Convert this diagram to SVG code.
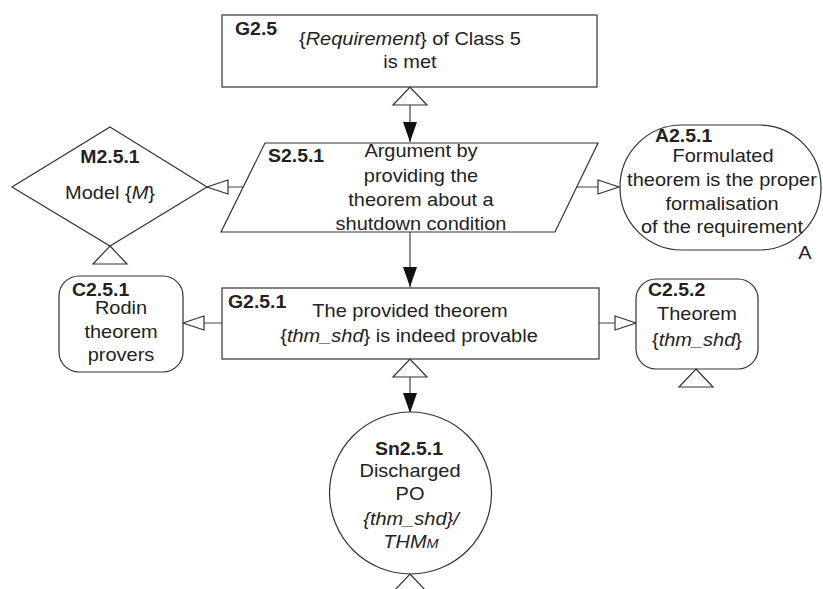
<svg xmlns="http://www.w3.org/2000/svg" xmlns:xlink="http://www.w3.org/1999/xlink" width="823" height="589" viewBox="0 0 823 589">
  <style>
    .shape { fill: #ffffff; stroke: #333333; stroke-width: 1.2; }
    .link { fill: none; stroke: #444444; stroke-width: 1.2; }
    text { font-family: "Liberation Sans", Arial, sans-serif; font-size: 18px; fill: #222222; }
    .c { text-anchor: middle; }
    .id { font-weight: bold; font-size: 17.5px; }
    .it { font-style: italic; }
  </style>
  <defs>
    <!-- filled arrowhead: "solved by" -->
    <marker id="solid" viewBox="0 0 20 14" markerWidth="20" markerHeight="14" refX="20" refY="7" orient="auto" markerUnits="userSpaceOnUse">
      <path d="M0,0 L20,7 L0,14 z" fill="#111111"/>
    </marker>
    <!-- large hollow head at the parent end -->
    <marker id="hollow" viewBox="-1 -1 20 36" markerWidth="20" markerHeight="36" refX="18" refY="17" orient="auto-start-reverse" markerUnits="userSpaceOnUse" overflow="visible">
      <path d="M0,0 L18,17 L0,34 z" fill="#ffffff" stroke="#333333" stroke-width="1.2"/>
    </marker>
    <!-- small hollow head: "in context of" -->
    <marker id="ctx" viewBox="-1 -1 24 16" markerWidth="24" markerHeight="16" refX="21" refY="7" orient="auto" markerUnits="userSpaceOnUse" overflow="visible">
      <path d="M0,0 L21,7 L0,14 z" fill="#ffffff" stroke="#333333" stroke-width="1.2"/>
    </marker>
    <!-- uninstantiated marker under a node -->
    <path id="uninst" d="M0,0 L17,18 L-17,18 z" class="shape"/>
  </defs>

  <g id="connectors">
    <path class="link" d="M410,87 V142" marker-start="url(#hollow)" marker-end="url(#solid)"/>
    <path class="link" d="M410,232 V287" marker-end="url(#solid)"/>
    <path class="link" d="M410,359 V413" marker-start="url(#hollow)" marker-end="url(#solid)"/>
    <path class="link" d="M243,187 H207" marker-end="url(#ctx)"/>
    <path class="link" d="M577,187 H619" marker-end="url(#ctx)"/>
    <path class="link" d="M222,323 H183" marker-end="url(#ctx)"/>
    <path class="link" d="M599,323 H636" marker-end="url(#ctx)"/>
  </g>

  <g id="G2.5">
    <rect class="shape" x="222" y="15" width="375" height="72"/>
    <text class="id" transform="translate(235,35) scale(1.11,1)">G2.5</text>
    <text class="c" transform="translate(410,45) scale(1.11,1)">{<tspan class="it">Requirement</tspan>} of Class 5</text>
    <text class="c" transform="translate(410,68) scale(1.11,1)">is met</text>
  </g>

  <g id="S2.5.1">
    <polygon class="shape" points="265,143 598,143 555,232 221,232"/>
    <text class="id" transform="translate(268,162) scale(1.11,1)">S2.5.1</text>
    <text class="c" transform="translate(421,157) scale(1.11,1)">Argument by</text>
    <text class="c" transform="translate(421,182) scale(1.11,1)">providing the</text>
    <text class="c" transform="translate(421,206) scale(1.11,1)">theorem about a</text>
    <text class="c" transform="translate(421,230) scale(1.11,1)">shutdown condition</text>
  </g>

  <g id="M2.5.1">
    <polygon class="shape" points="110,127 207,187 110,246 12,187"/>
    <use xlink:href="#uninst" x="110" y="246"/>
    <text class="id c" transform="translate(110,163) scale(1.11,1)">M2.5.1</text>
    <text class="c" transform="translate(110,199) scale(1.11,1)">Model {<tspan class="it">M</tspan>}</text>
  </g>

  <g id="A2.5.1">
    <rect class="shape" x="620" y="125" width="201" height="125" rx="62" ry="62"/>
    <text class="id" transform="translate(655,142) scale(1.11,1)">A2.5.1</text>
    <text class="c" transform="translate(723,162) scale(1.11,1)">Formulated</text>
    <text class="c" transform="translate(722,186) scale(1.11,1)">theorem is the proper</text>
    <text class="c" transform="translate(722,210) scale(1.11,1)">formalisation</text>
    <text class="c" transform="translate(722,233) scale(1.11,1)">of the requirement</text>
    <text class="c" transform="translate(805,259) scale(1.11,1)">A</text>
  </g>

  <g id="C2.5.1">
    <rect class="shape" x="59" y="276" width="124" height="96" rx="20" ry="20"/>
    <text class="id" transform="translate(72,296) scale(1.11,1)">C2.5.1</text>
    <text class="c" transform="translate(121,314) scale(1.11,1)">Rodin</text>
    <text class="c" transform="translate(121,338) scale(1.11,1)">theorem</text>
    <text class="c" transform="translate(121,361) scale(1.11,1)">provers</text>
  </g>

  <g id="G2.5.1">
    <rect class="shape" x="222" y="288" width="377" height="71"/>
    <text class="id" transform="translate(228,308) scale(1.11,1)">G2.5.1</text>
    <text class="c" transform="translate(410,317) scale(1.11,1)">The provided theorem</text>
    <text class="c" transform="translate(409,342) scale(1.11,1)">{<tspan class="it">thm_shd</tspan>} is indeed provable</text>
  </g>

  <g id="C2.5.2">
    <rect class="shape" x="636" y="279" width="122" height="90" rx="20" ry="20"/>
    <use xlink:href="#uninst" x="696" y="369"/>
    <text class="id" transform="translate(648,296) scale(1.11,1)">C2.5.2</text>
    <text class="c" transform="translate(697,320) scale(1.11,1)">Theorem</text>
    <text class="c" transform="translate(697,346) scale(1.11,1)">{<tspan class="it">thm_shd</tspan>}</text>
  </g>

  <g id="Sn2.5.1">
    <circle class="shape" cx="410.5" cy="493" r="81"/>
    <use xlink:href="#uninst" x="410" y="574"/>
    <text class="id c" transform="translate(409,455) scale(1.11,1)">Sn2.5.1</text>
    <text class="c" transform="translate(410,477) scale(1.11,1)">Discharged</text>
    <text class="c" transform="translate(410,500) scale(1.11,1)">PO</text>
    <text class="c it" transform="translate(411,525) scale(1.11,1)">{thm_shd}/</text>
    <text class="c it" transform="translate(411,548) scale(1.11,1)">THM<tspan font-size="13">M</tspan></text>
  </g>
</svg>
